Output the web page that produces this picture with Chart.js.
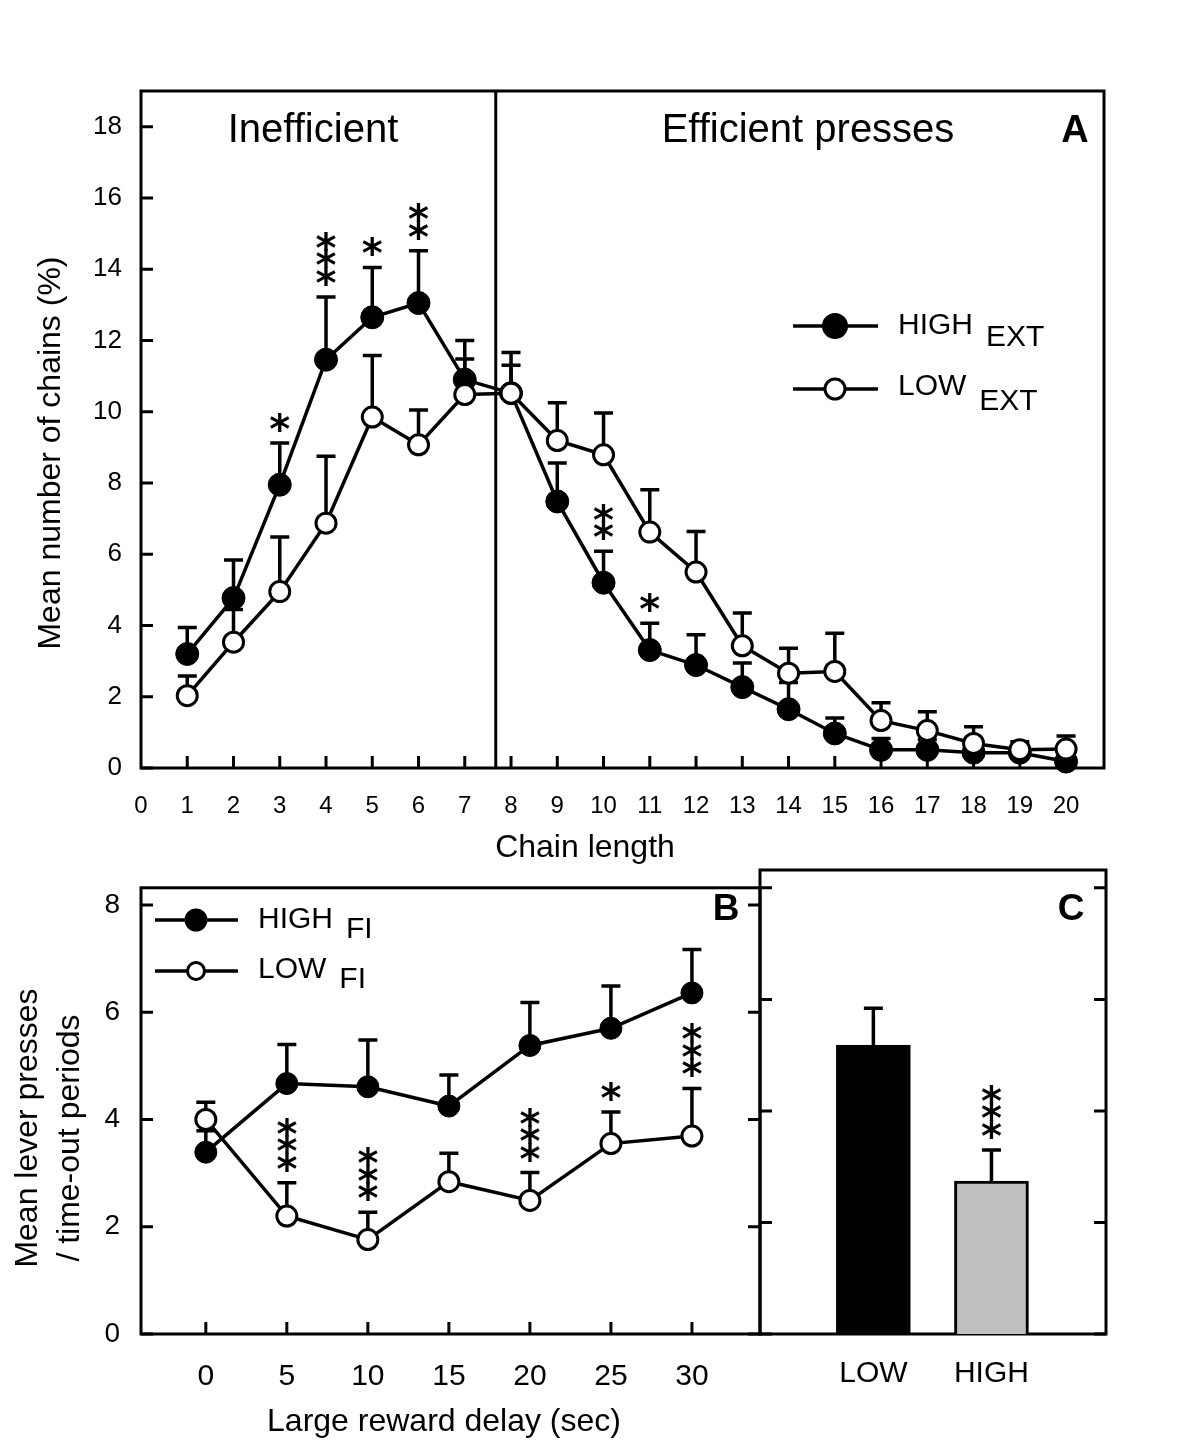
<!DOCTYPE html>
<html lang="en">
<head>
<meta charset="UTF-8">
<title>Chain length and time-out lever presses</title>
<script src="https://cdn.jsdelivr.net/npm/chart.js"></script>
<style>
  body { margin: 0; background: #fff; }
  #wrap { position: relative; width: 1200px; height: 1447px; background: #fff; }
  canvas { position: absolute; }
</style>
</head>
<body>
<div id="wrap">
  <canvas id="chartA" width="1200" height="875" style="left:0;top:0"></canvas>
  <canvas id="chartB" width="780" height="597" style="left:0;top:850px"></canvas>
  <canvas id="chartC" width="460" height="597" style="left:740px;top:850px"></canvas>
</div>

<script>
  // Panel A: chain length distribution
  const chainLength = [1, 2, 3, 4, 5, 6, 7, 8, 9, 10, 11, 12, 13, 14, 15, 16, 17, 18, 19, 20];
  const highExt    = [3.2, 4.77, 7.95, 11.46, 12.65, 13.05, 10.9, 10.52, 7.48, 5.2, 3.31, 2.89, 2.27, 1.65, 0.97, 0.51, 0.51, 0.43, 0.43, 0.18];
  const highExtSem = [0.74, 1.07, 1.17, 1.76, 1.4, 1.47, 1.1, 1.14, 1.08, 0.88, 0.75, 0.85, 0.68, 0.75, 0.43, 0.32, 0.29, 0.17, 0.12, 0.12];
  const lowExt     = [2.03, 3.53, 4.95, 6.87, 9.85, 9.07, 10.48, 10.52, 9.19, 8.79, 6.62, 5.5, 3.43, 2.66, 2.71, 1.33, 1.05, 0.69, 0.51, 0.53];
  const lowExtSem  = [0.55, 0.92, 1.53, 1.88, 1.73, 0.98, 1.0, 0.78, 1.06, 1.17, 1.19, 1.14, 0.92, 0.7, 1.07, 0.5, 0.53, 0.47, 0.23, 0.37];
  const chainXTicks = [0, 1, 2, 3, 4, 5, 6, 7, 8, 9, 10, 11, 12, 13, 14, 15, 16, 17, 18, 19, 20];
  const chainYTicks = [0, 2, 4, 6, 8, 10, 12, 14, 16, 18];
  const efficientFrom = 7.67;
  const starsA = [[3, 1], [4, 3], [5, 1], [6, 2], [10, 2], [11, 1]];   // over HIGH EXT

  // Panel B: lever presses by delay
  const delays    = [0, 5, 10, 15, 20, 25, 30];
  const highFi    = [3.39, 4.67, 4.61, 4.25, 5.38, 5.70, 6.36];
  const highFiSem = [0.4, 0.73, 0.87, 0.58, 0.8, 0.79, 0.81];
  const lowFi     = [4.0, 2.2, 1.76, 2.84, 2.49, 3.55, 3.69];
  const lowFiSem  = [0.32, 0.62, 0.51, 0.53, 0.52, 0.59, 0.89];
  const pressYTicks = [0, 2, 4, 6, 8];
  const starsB = [[5, 3], [10, 3], [20, 3], [25, 1], [30, 3]];         // over LOW FI

  // Panel C: groups
  const groups    = ['LOW', 'HIGH'];
  const groupPos  = [1, 2];
  const groupMean = [5.18, 2.74];
  const groupSem  = [0.66, 0.56];
  const starsC = [[2, 3]];

  const FAMILY = '"Liberation Sans", Arial, sans-serif';
  const pts = (xs, ys) => xs.map((x, i) => ({ x, y: ys[i] }));

  function series(label, xs, ys, sem, filled, r, order) {
    return {
      label, data: pts(xs, ys), sem, order,
      borderColor: '#000', borderWidth: 3.5, tension: 0, fill: false, clip: false,
      pointRadius: filled ? r : r - 1.5,
      pointBorderWidth: filled ? 1 : 3,
      pointBackgroundColor: filled ? '#000' : '#fff',
      pointBorderColor: '#000'
    };
  }

  const decor = {
    id: 'decor',
    beforeDatasetsDraw(chart, args, o) {
      const { ctx, chartArea: a, scales: { x, y } } = chart;
      ctx.save();
      ctx.strokeStyle = '#000';
      ctx.lineWidth = 3;
      ctx.beginPath();
      (o.bottomTicks || []).forEach(v => {
        const p = x.getPixelForValue(v);
        ctx.moveTo(p, a.bottom); ctx.lineTo(p, a.bottom - o.tick);
      });
      (o.leftTicks || []).forEach(v => {
        const p = y.getPixelForValue(v);
        ctx.moveTo(a.left, p); ctx.lineTo(a.left + o.tick, p);
      });
      (o.rightTicks || []).forEach(v => {
        const p = y.getPixelForValue(v);
        ctx.moveTo(a.right, p); ctx.lineTo(a.right - o.tick, p);
      });
      if (o.divider !== undefined) {
        const p = x.getPixelForValue(o.divider);
        ctx.moveTo(p, a.top); ctx.lineTo(p, a.bottom);
      }
      ctx.stroke();
      ctx.strokeRect(a.left, a.top, a.width, a.height);

      // upward error bars
      const cap = 19;
      ctx.lineWidth = 3.5;
      chart.data.datasets.forEach((ds, i) => {
        if (!ds.sem) return;
        chart.getDatasetMeta(i).data.forEach((el, j) => {
          const top = y.getPixelForValue(ds.data[j].y + ds.sem[j]);
          ctx.beginPath();
          ctx.moveTo(el.x, el.y); ctx.lineTo(el.x, top);
          ctx.moveTo(el.x - cap / 2, top); ctx.lineTo(el.x + cap / 2, top);
          ctx.stroke();
        });
      });
      ctx.restore();
    },
    afterDatasetsDraw(chart, args, o) {
      const { ctx, scales: { x, y } } = chart;
      ctx.save();
      ctx.fillStyle = '#000';
      ctx.strokeStyle = '#000';

      // significance stars
      if (o.stars) {
        const ds = chart.data.datasets[o.stars.ds];
        ctx.font = 'bold 40px "DejaVu Sans", sans-serif';
        ctx.textAlign = 'center';
        ctx.textBaseline = 'alphabetic';
        const m = ctx.measureText('*');
        const off = (m.actualBoundingBoxAscent - m.actualBoundingBoxDescent) / 2;
        o.stars.list.forEach(([xv, n]) => {
          const j = ds.data.findIndex(d => d.x === xv);
          const px = x.getPixelForValue(xv);
          const base = y.getPixelForValue(ds.data[j].y + ds.sem[j]) - 21;
          for (let k = 0; k < n; k++) ctx.fillText('*', px, base - k * 17.5 + off);
        });
      }

      // legend
      (o.legend || []).forEach(it => {
        ctx.lineWidth = 3.5;
        ctx.beginPath(); ctx.moveTo(it.x0, it.y); ctx.lineTo(it.x1, it.y); ctx.stroke();
        ctx.lineWidth = 3;
        ctx.beginPath();
        ctx.arc(it.mx, it.y, it.filled ? it.r : it.r - 1.5, 0, Math.PI * 2);
        ctx.fillStyle = it.filled ? '#000' : '#fff';
        ctx.fill(); ctx.stroke();
        ctx.fillStyle = '#000';
        ctx.font = '30px ' + FAMILY;
        ctx.textAlign = 'left';
        ctx.textBaseline = 'alphabetic';
        ctx.fillText(it.label, it.tx, it.ty);
        const w = ctx.measureText(it.label).width;
        ctx.fillText(it.sub, it.tx + w + 13, it.ty + it.subDy);
      });

      // free text
      (o.texts || []).forEach(t => {
        ctx.save();
        ctx.font = t.font;
        ctx.textAlign = t.align || 'center';
        ctx.textBaseline = 'alphabetic';
        ctx.translate(t.x, t.y);
        if (t.rot) ctx.rotate(-Math.PI / 2);
        ctx.fillText(t.t, 0, 0);
        ctx.restore();
      });
      ctx.restore();
    }
  };

  const tickFont = size => ({ family: FAMILY, size });
  const fixedTicks = list => scale => { scale.ticks = list.map(v => ({ value: v })); };
  const baseOpts = { responsive: false, animation: false, events: [] };

  // Panel A
  new Chart(document.getElementById('chartA'), {
    type: 'line',
    data: {
      datasets: [
        series('HIGH EXT', chainLength, highExt, highExtSem, true, 11.5, 2),
        series('LOW EXT', chainLength, lowExt, lowExtSem, false, 11.5, 1)
      ]
    },
    options: {
      ...baseOpts,
      layout: { padding: { left: 0, top: 91, right: 96, bottom: 0 } },
      scales: {
        x: {
          type: 'linear', min: 0, max: 20.82,
          afterBuildTicks: fixedTicks(chainXTicks),
          afterFit: s => { s.height = 107; },
          grid: { display: false, drawTicks: false }, border: { display: false },
          ticks: { color: '#000', font: tickFont(24), padding: 24, autoSkip: false, maxRotation: 0 }
        },
        y: {
          min: 0, max: 19.0,
          afterBuildTicks: fixedTicks(chainYTicks),
          afterFit: s => { s.width = 141; },
          grid: { display: false, drawTicks: false }, border: { display: false },
          ticks: { color: '#000', font: tickFont(26), padding: 19 }
        }
      },
      plugins: {
        legend: { display: false }, tooltip: { enabled: false },
        decor: {
          tick: 12,
          bottomTicks: chainLength, leftTicks: chainYTicks,
          divider: efficientFrom,
          stars: { ds: 0, list: starsA },
          legend: [
            { y: 326, x0: 793, x1: 878, mx: 835, r: 11.5, filled: true, label: 'HIGH', sub: 'EXT', tx: 898, ty: 334, subDy: 12 },
            { y: 389, x0: 793, x1: 878, mx: 835, r: 11.5, filled: false, label: 'LOW', sub: 'EXT', tx: 898, ty: 395, subDy: 15 }
          ],
          texts: [
            { t: 'Inefficient', x: 313, y: 142, font: '40px ' + FAMILY },
            { t: 'Efficient presses', x: 808, y: 142, font: '40px ' + FAMILY },
            { t: 'A', x: 1075, y: 142, font: 'bold 38px ' + FAMILY },
            { t: 'Chain length', x: 585, y: 857, font: '32px ' + FAMILY },
            { t: 'Mean number of chains (%)', x: 60, y: 453, rot: true, font: '32px ' + FAMILY }
          ]
        }
      }
    },
    plugins: [decor]
  });

  // Panel B
  new Chart(document.getElementById('chartB'), {
    type: 'line',
    data: {
      datasets: [
        series('HIGH FI', delays, highFi, highFiSem, true, 11, 2),
        series('LOW FI', delays, lowFi, lowFiSem, false, 11.5, 1)
      ]
    },
    options: {
      ...baseOpts,
      layout: { padding: { left: 0, top: 20, right: 20, bottom: 0 } },
      scales: {
        x: {
          type: 'linear', min: -4, max: 34.2,
          afterBuildTicks: fixedTicks(delays),
          afterFit: s => { s.height = 113; },
          grid: { display: false, drawTicks: false }, border: { display: false },
          ticks: { color: '#000', font: tickFont(30), padding: 25, autoSkip: false, maxRotation: 0 }
        },
        y: {
          min: 0, max: 8.32,
          afterBuildTicks: fixedTicks(pressYTicks),
          afterFit: s => { s.width = 141; },
          grid: { display: false, drawTicks: false }, border: { display: false },
          ticks: { color: '#000', font: tickFont(28), padding: 21 }
        }
      },
      plugins: {
        legend: { display: false }, tooltip: { enabled: false },
        decor: {
          tick: 12,
          bottomTicks: delays, leftTicks: pressYTicks, rightTicks: pressYTicks,
          stars: { ds: 1, list: starsB },
          legend: [
            { y: 70, x0: 155, x1: 238, mx: 196, r: 10, filled: true, label: 'HIGH', sub: 'FI', tx: 258, ty: 78, subDy: 10 },
            { y: 121, x0: 155, x1: 238, mx: 196, r: 10, filled: false, label: 'LOW', sub: 'FI', tx: 258, ty: 128, subDy: 10 }
          ],
          texts: [
            { t: 'B', x: 726, y: 70, font: 'bold 37px ' + FAMILY },
            { t: 'Large reward delay (sec)', x: 444, y: 581, font: '32px ' + FAMILY },
            { t: 'Mean lever presses', x: 37, y: 278, rot: true, font: '32px ' + FAMILY },
            { t: '/ time-out periods', x: 79, y: 288, rot: true, font: '32px ' + FAMILY }
          ]
        }
      }
    },
    plugins: [decor]
  });

  // Panel C
  new Chart(document.getElementById('chartC'), {
    type: 'bar',
    data: {
      datasets: [{
        label: 'Groups',
        data: pts(groupPos, groupMean),
        sem: groupSem,
        backgroundColor: ['#000', '#c0c0c0'],
        borderColor: '#000',
        borderWidth: 3,
        barThickness: 74
      }]
    },
    options: {
      ...baseOpts,
      layout: { padding: { left: 20, top: 20, right: 94, bottom: 0 } },
      scales: {
        x: {
          type: 'linear', min: 0.04, max: 2.97, offset: false,
          afterBuildTicks: fixedTicks(groupPos),
          afterFit: s => { s.height = 113; },
          grid: { display: false, drawTicks: false }, border: { display: false },
          ticks: { color: '#000', font: tickFont(30), padding: 22, autoSkip: false, maxRotation: 0,
                   callback: v => groups[groupPos.indexOf(v)] }
        },
        y: { display: false, min: 0, max: 8.32 }
      },
      plugins: {
        legend: { display: false }, tooltip: { enabled: false },
        decor: {
          tick: 12,
          leftTicks: pressYTicks, rightTicks: pressYTicks,
          stars: { ds: 0, list: starsC },
          texts: [
            { t: 'C', x: 331, y: 70, font: 'bold 37px ' + FAMILY }
          ]
        }
      }
    },
    plugins: [decor]
  });
</script>
</body>
</html>
